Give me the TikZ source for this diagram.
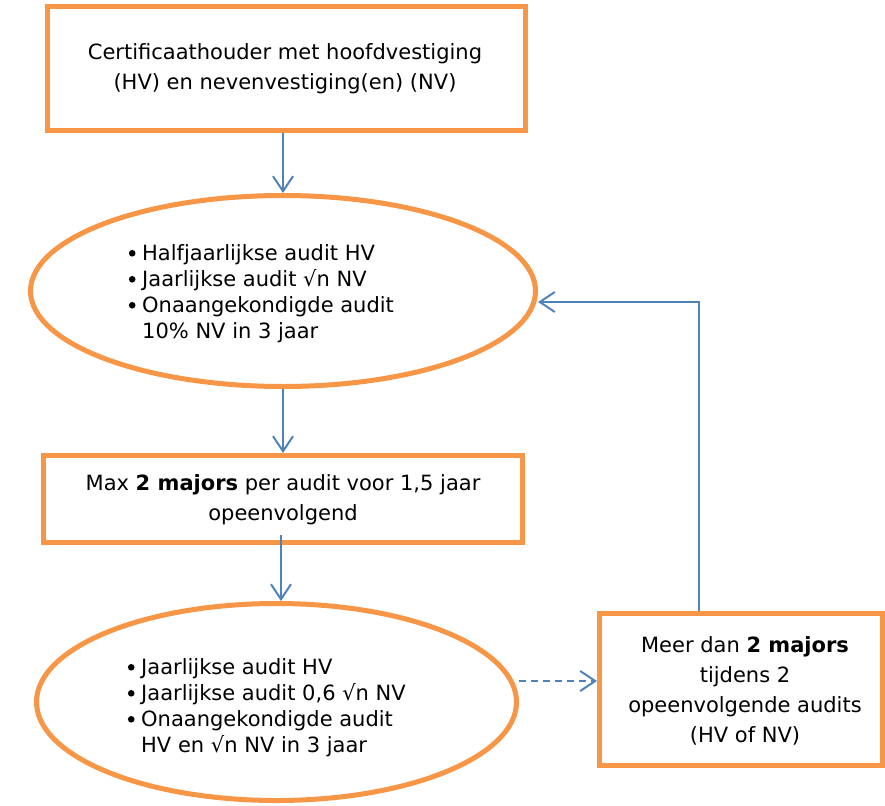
\documentclass[tikz,border=0pt]{standalone}
\usepackage{fontspec}
\setmainfont{DejaVu Sans}
\usetikzlibrary{arrows.meta,shapes.geometric}
\definecolor{boxorange}{HTML}{F79646}
\definecolor{arrowblue}{HTML}{4F81BD}
\newcommand{\bul}{\makebox[10pt][l]{\makebox[0pt][c]{\raisebox{4.2pt}{\tikz\fill[black] (0,0) circle (3.3pt);}}}}
\newcommand{\ind}{\hspace*{10pt}}
\tikzset{
  orbox/.style={draw=boxorange, line width=5pt, rectangle, inner sep=0pt, fill=white},
  orell/.style={draw=boxorange, line width=5pt, ellipse, inner sep=0pt, fill=white},
  boxtext/.style={align=center, font=\fontsize{21}{30}\selectfont, inner sep=0pt},
  elltext/.style={align=left, font=\fontsize{21}{26}\selectfont, inner sep=0pt},
  flow/.style={draw=arrowblue, line width=2pt, -{Straight Barb[length=15pt,width=20pt]}},
}
\begin{document}
\begin{tikzpicture}[x=1pt,y=-1pt]
\useasboundingbox (0,0) rectangle (885,805);
% boxes
\node[orbox, minimum width=478pt, minimum height=124pt] (b1) at (286.5,68.5) {};
\node[boxtext] (b1t) at (285,69) {Certificaathouder met hoofdvestiging\\(HV) en nevenvestiging(en) (NV)};
\node[orell, minimum width=505pt, minimum height=191pt] (e1) at (283,291) {};
\node[elltext, anchor=west] (e1t) at (132,294) {\bul Halfjaarlijkse audit HV\\\bul Jaarlijkse audit √n NV\\\bul Onaangekondigde audit\\\ind 10\% NV in 3 jaar};
\node[orbox, minimum width=479pt, minimum height=87pt] (b2) at (283,499) {};
\node[boxtext] (b2t) at (283,500) {Max \textbf{2 majors} per audit voor 1,5 jaar\\opeenvolgend};
\node[orell, minimum width=480pt, minimum height=197pt] (e2) at (276.5,702) {};
\node[elltext, anchor=west] (e2t) at (131,708) {\bul Jaarlijkse audit HV\\\bul Jaarlijkse audit 0,6 √n NV\\\bul Onaangekondigde audit\\\ind HV en √n NV in 3 jaar};
\node[orbox, minimum width=283pt, minimum height=152pt] (b3) at (741,689.5) {};
\node[boxtext] (b3t) at (745,691) {Meer dan \textbf{2 majors}\\tijdens 2\\opeenvolgende audits\\(HV of NV)};
% connectors
\draw[flow] (b1.south -| 283,0) -- (e1.north);
\draw[flow] (e1.south) -- (b2.north);
\draw[flow] ([yshift=10pt]b2.south -| 281,0) -- (e2.north -| 281,0);
\draw[flow, dashed, dash pattern=on 7pt off 5pt] (e2.east |- 0,681) -- (b3.west |- 0,681);
\draw[flow] ([xshift=-42pt]b3.north) |- ([yshift=-11pt]e1.east);
\end{tikzpicture}
\end{document}
